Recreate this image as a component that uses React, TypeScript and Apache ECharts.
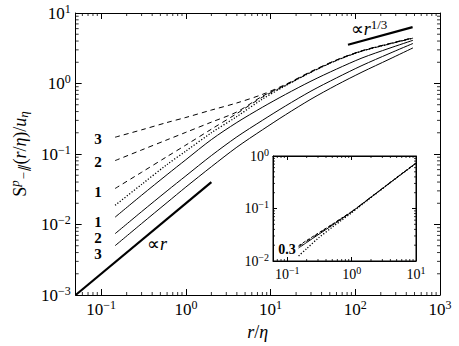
import React, { useEffect, useRef } from "react";
import * as echarts from "echarts";

// ---------- data ----------
const rMain = [0.146, 0.3, 0.6, 1, 2, 4, 8, 15, 30, 60, 120, 250, 480];
const solid1 = [0.0127, 0.026, 0.051, 0.083, 0.16, 0.28, 0.46, 0.7, 1.08, 1.6, 2.3, 3.15, 4.1];
const solid2 = [0.0074, 0.0152, 0.03, 0.049, 0.095, 0.175, 0.3, 0.48, 0.78, 1.2, 1.8, 2.65, 3.7];
const solid3 = [0.005, 0.0103, 0.0205, 0.034, 0.066, 0.125, 0.22, 0.36, 0.6, 0.95, 1.45, 2.2, 3.2];
const dashed1 = [0.0324, 0.055, 0.092, 0.134, 0.225, 0.375, 0.64, 0.94, 1.44, 2.12, 2.88, 3.62, 4.4];
const dashed2 = [0.0806, 0.114, 0.159, 0.203, 0.283, 0.395, 0.66, 0.95, 1.46, 2.14, 2.9, 3.65, 4.42];
const dashed3 = [0.173, 0.22, 0.28, 0.33, 0.42, 0.53, 0.7, 0.97, 1.48, 2.16, 2.92, 3.67, 4.45];
const dottedMain = [0.0187, 0.037, 0.071, 0.11, 0.2, 0.34, 0.6, 0.93, 1.45, 2.13, 2.89, 3.63, 4.41];

const propRx = [0.05, 2];
const propRy = [0.001, 0.04];
const propR13x = [82, 475];
const propR13y = [3.55, 6.3];

const rInset = [0.15, 0.2, 0.3, 0.5, 0.7, 1, 2, 3, 5, 10];
const insetSolid = [0.0177, 0.0225, 0.0315, 0.048, 0.0635, 0.086, 0.164, 0.239, 0.385, 0.73];
const insetDashedA = [0.0188, 0.0238, 0.033, 0.0495, 0.065, 0.087, 0.165, 0.24, 0.386, 0.73];
const insetDashedB = [0.0196, 0.0246, 0.0337, 0.0502, 0.0658, 0.0876, 0.1655, 0.241, 0.387, 0.731];
const insetDotted = [0.0125, 0.0172, 0.027, 0.044, 0.06, 0.083, 0.162, 0.238, 0.384, 0.73];

const mainX = [0.05, 1000];
const mainY = [0.001, 10];
const insetX = [0.06, 10];
const insetY = [0.01, 1];

const dashedLabels = ["3", "2", "1"];
const solidLabels = ["1", "2", "3"];

const FONT = "Liberation Serif";

const zip = (xs: number[], ys: number[]) => xs.map((x, i) => [x, ys[i]]);

function minorValues(lo: number, hi: number) {
  const out: number[] = [];
  for (let e = -4; e <= 4; e++) {
    for (let k = 2; k <= 9; k++) {
      const v = k * Math.pow(10, e);
      if (v > lo * 1.0001 && v < hi * 0.9999) out.push(v);
    }
  }
  return out;
}

function powLabel(v: number) {
  const l = Math.log10(v);
  const e = Math.round(l);
  if (Math.abs(l - e) > 1e-6) return "";
  const s = e < 0 ? "\u2212" + -e : String(e);
  return `{b|10}{s|${s}}`;
}

function richFor(size: number) {
  return {
    b: { fontSize: size, fontFamily: FONT, color: "#000" },
    s: { fontSize: Math.round(size * 0.7), fontFamily: FONT, color: "#000", padding: [0, 0, Math.round(size * 0.55), 0] },
  };
}

function axisBase(min: number, max: number, gridIndex: number, tickLen: number) {
  return {
    type: "log",
    logBase: 10,
    min,
    max,
    gridIndex,
    splitLine: { show: false },
    axisLine: { show: true, lineStyle: { color: "#000", width: 1 } },
    axisTick: { show: true, inside: true, length: tickLen, lineStyle: { color: "#000", width: 1 } },
  };
}

function minorSeries(kind: "x" | "y", vals: number[], axisIdx: number, len: number, other: number) {
  return {
    type: "custom",
    xAxisIndex: axisIdx,
    yAxisIndex: axisIdx,
    silent: true,
    z: 5,
    data: vals.map((v) => (kind === "x" ? [v, other] : [other, v])),
    renderItem: (params: any, api: any) => {
      const cs = params.coordSys;
      const st = { stroke: "#000", lineWidth: 0.8 };
      if (kind === "x") {
        const px = api.coord([api.value(0), api.value(1)])[0];
        const b = cs.y + cs.height;
        return {
          type: "group",
          children: [
            { type: "line", shape: { x1: px, y1: b, x2: px, y2: b - len }, style: st },
            { type: "line", shape: { x1: px, y1: cs.y, x2: px, y2: cs.y + len }, style: st },
          ],
        };
      }
      const py = api.coord([api.value(0), api.value(1)])[1];
      const r = cs.x + cs.width;
      return {
        type: "group",
        children: [
          { type: "line", shape: { x1: cs.x, y1: py, x2: cs.x + len, y2: py }, style: st },
          { type: "line", shape: { x1: r, y1: py, x2: r - len, y2: py }, style: st },
        ],
      };
    },
  };
}

function lineSeries(xs: number[], ys: number[], idx: number, type: any, width = 1) {
  return {
    type: "line",
    xAxisIndex: idx,
    yAxisIndex: idx,
    data: zip(xs, ys),
    showSymbol: false,
    symbol: "none",
    smooth: 0.3,
    silent: true,
    lineStyle: { color: "#000", width, type },
  };
}

export default function App() {
  const ref = useRef<HTMLDivElement>(null);
  useEffect(() => {
    if (!ref.current) return;
    const chart = echarts.init(ref.current, undefined, { renderer: "svg" });
    const mainRich = richFor(17);
    const insetRich = richFor(14);

    const xMain = {
      ...axisBase(mainX[0], mainX[1], 0, 6),
      position: "bottom",
      name: "{i|r}{n|/}{i|\u03b7}",
      nameLocation: "middle",
      nameGap: 28,
      nameTextStyle: {
        fontFamily: FONT,
        rich: {
          i: { fontSize: 18, fontStyle: "italic", fontFamily: FONT, color: "#000" },
          n: { fontSize: 18, fontFamily: FONT, color: "#000" },
        },
      },
      axisLabel: { show: true, margin: 4, fontFamily: FONT, fontSize: 17, color: "#000", formatter: powLabel, rich: mainRich, showMinLabel: false },
    };
    const xMainTop = { ...axisBase(mainX[0], mainX[1], 0, 6), position: "top", axisLabel: { show: false } };
    const yMain = {
      ...axisBase(mainY[0], mainY[1], 0, 6),
      position: "left",
      name:
        "{n|S}{sp|p}{sb|\u2212\u2225}{n|(}{i|r}{n|/}{i|\u03b7}{n|)/}{i|u}{sb|\u03b7}",
      nameLocation: "middle",
      nameGap: 44,
      nameTextStyle: {
        fontFamily: FONT,
        rich: {
          n: { fontSize: 18, fontFamily: FONT, color: "#000" },
          i: { fontSize: 18, fontStyle: "italic", fontFamily: FONT, color: "#000" },
          sp: { fontSize: 13, fontStyle: "italic", fontFamily: FONT, color: "#000", padding: [0, 0, 10, 0] },
          sb: { fontSize: 13, fontStyle: "italic", fontFamily: FONT, color: "#000", padding: [8, 0, 0, 0] },
        },
      },
      axisLabel: { show: true, margin: 5, fontFamily: FONT, fontSize: 17, color: "#000", formatter: powLabel, rich: mainRich },
    };
    const yMainRight = { ...axisBase(mainY[0], mainY[1], 0, 6), position: "right", axisLabel: { show: false } };

    const xIn = {
      ...axisBase(insetX[0], insetX[1], 1, 4),
      position: "bottom",
      axisLabel: { show: true, margin: 4, fontFamily: FONT, fontSize: 14, color: "#000", formatter: powLabel, rich: insetRich, showMinLabel: false },
    };
    const xInTop = { ...axisBase(insetX[0], insetX[1], 1, 4), position: "top", axisLabel: { show: false } };
    const yIn = {
      ...axisBase(insetY[0], insetY[1], 1, 4),
      position: "left",
      axisLabel: { show: true, margin: 4, fontFamily: FONT, fontSize: 14, color: "#000", formatter: powLabel, rich: insetRich },
    };
    const yInRight = { ...axisBase(insetY[0], insetY[1], 1, 4), position: "right", axisLabel: { show: false } };

    const dash = [5, 4];
    const dot = [1.2, 1.8];

    const curveLabel = (t: string, y: number) => ({
      type: "text",
      x: 98,
      y,
      style: {
        text: t,
        fontSize: 15,
        lineHeight: 13,
        fontWeight: "bold",
        fontFamily: FONT,
        fill: "#000",
        align: "center",
        verticalAlign: "middle",
      },
    });

    const option: any = {
      animation: false,
      backgroundColor: "#fff",
      textStyle: { fontFamily: FONT },
      grid: [
        { left: 69, top: 13, width: 371, height: 286, show: false },
        { left: 273, top: 156, width: 143, height: 105, show: true, backgroundColor: "#fff", borderColor: "#000", borderWidth: 1 },
      ],
      xAxis: [xMain, xIn, xMainTop, xInTop],
      yAxis: [yMain, yIn, yMainRight, yInRight],
      series: [
        lineSeries(rMain, solid1, 0, "solid"),
        lineSeries(rMain, solid2, 0, "solid"),
        lineSeries(rMain, solid3, 0, "solid"),
        lineSeries(rMain, dashed1, 0, dash),
        lineSeries(rMain, dashed2, 0, dash),
        lineSeries(rMain, dashed3, 0, dash),
        lineSeries(rMain, dottedMain, 0, dot, 1.3),
        { ...lineSeries(propRx, propRy, 0, "solid", 2.2), smooth: false },
        { ...lineSeries(propR13x, propR13y, 0, "solid", 2.2), smooth: false },
        lineSeries(rInset, insetSolid, 1, "solid"),
        lineSeries(rInset, insetDashedA, 1, dash),
        lineSeries(rInset, insetDashedB, 1, [3, 2]),
        lineSeries(rInset, insetDotted, 1, dot, 1.3),
        minorSeries("x", minorValues(mainX[0], mainX[1]), 0, 3, 1),
        minorSeries("y", minorValues(mainY[0], mainY[1]), 0, 3, 1),
        minorSeries("x", minorValues(insetX[0], insetX[1]), 1, 2, 0.1),
        minorSeries("y", minorValues(insetY[0], insetY[1]), 1, 2, 1),
      ],
      graphic: [
        curveLabel(dashedLabels[0], 139),
        curveLabel(dashedLabels[1], 162),
        curveLabel(dashedLabels[2], 192),
        curveLabel(solidLabels[0], 222),
        curveLabel(solidLabels[1], 238),
        curveLabel(solidLabels[2], 254),
        {
          type: "text",
          x: 157,
          y: 244,
          style: {
            text: "{n|\u221d}{i|r}",
            align: "center",
            verticalAlign: "middle",
            rich: {
              n: { fontSize: 18, fontFamily: FONT, fill: "#000" },
              i: { fontSize: 18, fontStyle: "italic", fontFamily: FONT, fill: "#000" },
            },
          },
        },
        {
          type: "text",
          x: 369,
          y: 29,
          style: {
            text: "{n|\u221d}{i|r}{s|1/3}",
            align: "center",
            verticalAlign: "middle",
            rich: {
              n: { fontSize: 18, fontFamily: FONT, fill: "#000" },
              i: { fontSize: 18, fontStyle: "italic", fontFamily: FONT, fill: "#000" },
              s: { fontSize: 13, fontFamily: FONT, fill: "#000", padding: [0, 0, 10, 0] },
            },
          },
        },
        {
          type: "text",
          x: 287,
          y: 249,
          z: 100,
          style: { text: "0.3", fontSize: 14, fontWeight: "bold", fontFamily: FONT, fill: "#000", align: "center", verticalAlign: "middle" },
        },
      ],
    };
    chart.setOption(option);
    return () => chart.dispose();
  }, []);
  return (
    <div
      ref={ref}
      style={{ position: "fixed", left: 0, top: 0, width: 459, height: 346, background: "#fff" }}
    />
  );
}
